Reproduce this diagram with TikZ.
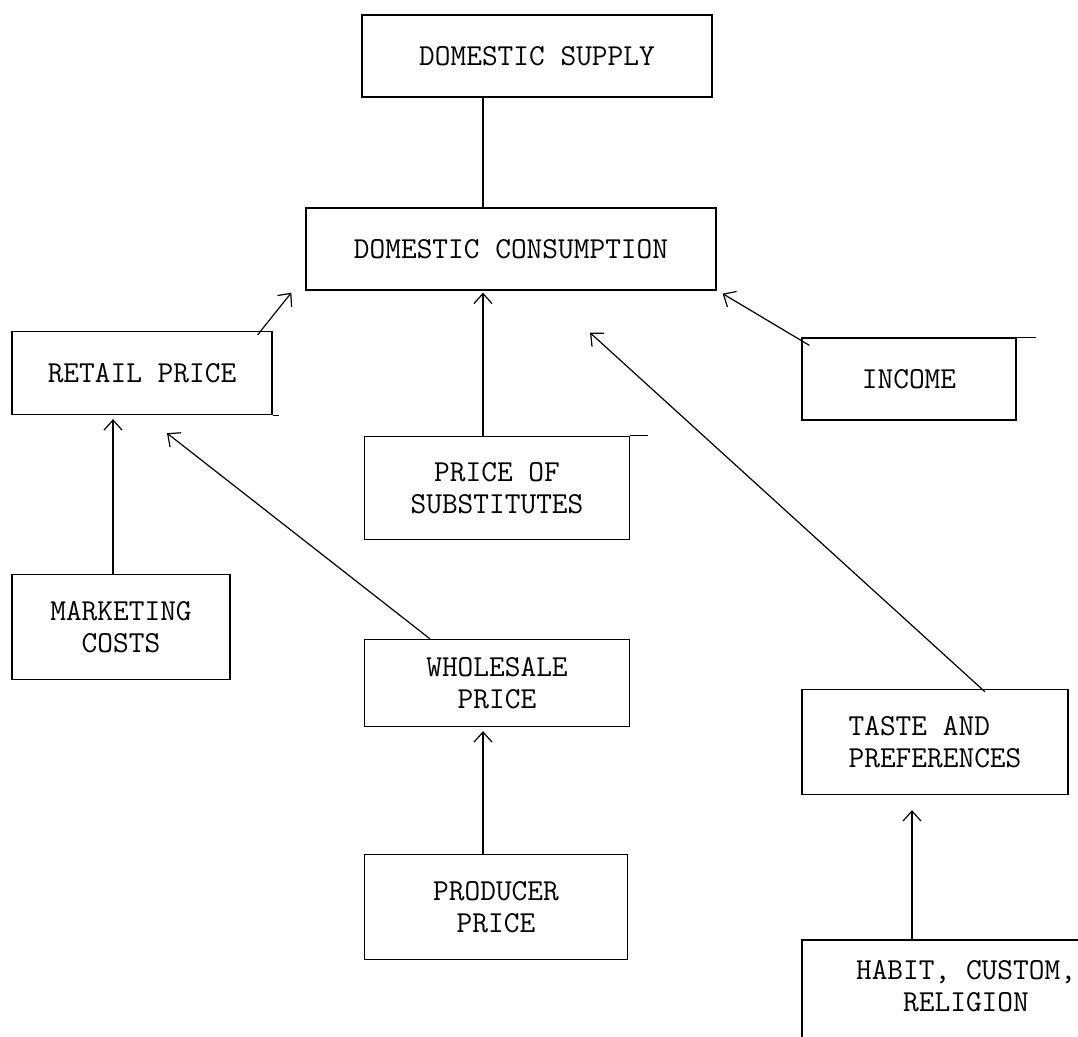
\documentclass[tikz,border=0pt]{standalone}
\usepackage{fontspec}
\usetikzlibrary{arrows.meta}
\begin{document}
\begin{tikzpicture}[x=1pt,y=-1pt,
  box/.style={draw, line width=1.3pt, inner sep=0pt, align=center,
    font=\ttfamily\fontsize{30.5}{32}\selectfont},
  link/.style={line width=1.2pt},
  arr/.style={line width=1.2pt, -{Straight Barb[length=10pt,width=18pt,line width=1.2pt]}}]
\useasboundingbox (0,0) rectangle (1078,1036);
\clip (0,0) rectangle (1078,1036);
\node[box, minimum width=350pt, minimum height=82pt] (sup) at (537,56) {DOMESTIC SUPPLY};
\node[box, minimum width=410pt, minimum height=82pt] (con) at (511,249) {DOMESTIC CONSUMPTION};
\node[box, minimum width=260pt, minimum height=83pt] (ret) at (142,373) {RETAIL PRICE};
\node[box, minimum width=214pt, minimum height=82pt] (inc) at (909,379) {INCOME};
\node[box, minimum width=265pt, minimum height=103pt] (sub) at (497,488) {PRICE OF\\SUBSTITUTES};
\node[box, minimum width=218pt, minimum height=105pt] (mkt) at (121,627) {MARKETING\\COSTS};
\node[box, minimum width=265pt, minimum height=87pt] (whl) at (497,683) {WHOLESALE\\PRICE};
\node[box, minimum width=266pt, minimum height=105pt, align=left] (tst) at (935,742) {TASTE AND\\PREFERENCES};
\node[box, minimum width=263pt, minimum height=105pt] (prd) at (496,907) {PRODUCER\\PRICE};
\node[box, minimum width=328pt, minimum height=130pt] (hab) at (966,1005) {HABIT, CUSTOM,\\RELIGION\\[6pt]};
% overshooting edges
\draw[link] (sub.north east) -- ++(18,0);
\draw[link] (inc.north east) -- ++(19,0);
\draw[link] (ret.south east) -- ++(6,0);
% connectors
\draw[link] ([xshift=-54pt]sup.south) -- ([xshift=-28pt]con.north);
\draw[arr] ([xshift=-15pt,yshift=-4pt]ret.north east) -- ([xshift=-14pt,yshift=-2pt]con.south west);
\draw[arr] ([xshift=-14pt]sub.north) -- ([xshift=-28pt,yshift=-2pt]con.south);
\draw[arr] ([xshift=8pt,yshift=-8pt]inc.north west) -- ([xshift=6pt,yshift=-3pt]con.south east);
\draw[arr] ([xshift=50pt,yshift=-3pt]tst.north) -- ([xshift=79pt,yshift=-42pt]con.south);
\draw[arr] ([xshift=-8pt]mkt.north) -- ([xshift=-29pt,yshift=-4pt]ret.south);
\draw[arr] ([xshift=-67pt]whl.north) -- ([xshift=25pt,yshift=-18pt]ret.south);
\draw[arr] ([xshift=-13pt]prd.north) -- ([xshift=-14pt,yshift=-4pt]whl.south);
\draw[arr] ([xshift=-54pt]hab.north) -- ([xshift=-23pt,yshift=-15pt]tst.south);
\end{tikzpicture}
\end{document}
